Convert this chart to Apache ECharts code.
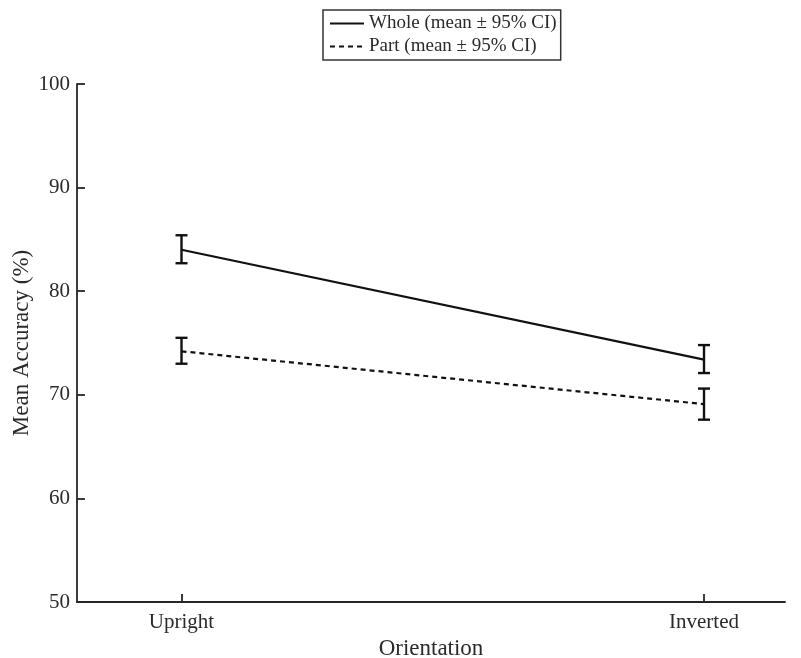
<!DOCTYPE html>
<html>
<head>
<meta charset="utf-8">
<script src="https://cdn.jsdelivr.net/npm/echarts@6/dist/echarts.min.js"></script>
<style>html,body{margin:0;padding:0;background:#fff}#c{width:801px;height:658px}</style>
</head>
<body>
<div id="c"></div>
<script>
var categories = ['Upright', 'Inverted'];
var wholeMean = [84.0, 73.4];
var wholeLow = [82.7, 72.1];
var wholeHigh = [85.4, 74.8];
var partMean = [74.2, 69.1];
var partLow = [73.0, 67.6];
var partHigh = [75.5, 70.6];
var yTicks = [50, 60, 70, 80, 90, 100];

var FONT = '"Liberation Serif", "Times New Roman", serif';
var TXT = '#2a2a2a';

function pts(arr) { return arr.map(function (v, i) { return [i + 1, v]; }); }
function errData(lo, hi) { return lo.map(function (v, i) { return [i + 1, v, hi[i]]; }); }

function errRender(params, api) {
  var x = api.value(0);
  var lo = api.coord([x, api.value(1)]);
  var hi = api.coord([x, api.value(2)]);
  var cap = 6;
  var st = { stroke: '#111', lineWidth: 2.4 };
  return {
    type: 'group',
    children: [
      { type: 'line', shape: { x1: lo[0], y1: lo[1], x2: hi[0], y2: hi[1] }, style: st },
      { type: 'line', shape: { x1: lo[0] - cap, y1: lo[1], x2: lo[0] + cap, y2: lo[1] }, style: st },
      { type: 'line', shape: { x1: hi[0] - cap, y1: hi[1], x2: hi[0] + cap, y2: hi[1] }, style: st }
    ]
  };
}

var chart = echarts.init(document.getElementById('c'));
chart.setOption({
  animation: false,
  backgroundColor: '#fff',
  textStyle: { fontFamily: FONT, color: TXT },
  grid: { left: 77, right: 16, top: 84, bottom: 56, containLabel: false, outerBoundsMode: 'none' },
  legend: {
    orient: 'vertical',
    left: 323, top: 10,
    itemWidth: 34, itemHeight: 10, itemGap: 4,
    padding: [4, 4, 4, 6],
    borderColor: '#333', borderWidth: 1.5,
    itemStyle: { opacity: 0 },
    textStyle: { fontFamily: FONT, fontSize: 19, color: TXT },
    data: ['Whole (mean \u00b1 95% CI)', 'Part (mean \u00b1 95% CI)']
  },
  xAxis: {
    type: 'value', min: 0.8, max: 2.155,
    name: 'Orientation', nameLocation: 'middle', nameGap: 34,
    nameTextStyle: { fontFamily: FONT, fontSize: 23, color: TXT },
    splitLine: { show: false },
    axisLine: { lineStyle: { color: '#262626', width: 1.8 } },
    axisTick: { inside: true, length: 8, customValues: [1, 2], lineStyle: { color: '#262626', width: 1.8 } },
    axisLabel: {
      customValues: [1, 2], margin: 10, fontFamily: FONT, fontSize: 21, color: TXT,
      formatter: function (v) { return categories[Math.round(v) - 1] || ''; }
    }
  },
  yAxis: {
    type: 'value', min: 50, max: 100, interval: 10,
    name: 'Mean Accuracy (%)', nameLocation: 'middle', nameGap: 44, nameMoveOverlap: false,
    nameTextStyle: { fontFamily: FONT, fontSize: 23, color: TXT },
    splitLine: { show: false },
    axisLine: { show: true, lineStyle: { color: '#262626', width: 1.8 } },
    axisTick: { show: true, inside: true, length: 8, lineStyle: { color: '#262626', width: 1.8 } },
    axisLabel: { margin: 7, fontFamily: FONT, fontSize: 21, color: TXT,
      formatter: function (v) { return yTicks.indexOf(v) >= 0 ? String(v) : ''; } }
  },
  series: [
    {
      name: 'Whole (mean \u00b1 95% CI)', type: 'line', data: pts(wholeMean),
      symbol: 'none', lineStyle: { color: '#111', width: 2.2, type: 'solid' },
      itemStyle: { color: '#111' }, z: 3
    },
    {
      name: 'Part (mean \u00b1 95% CI)', type: 'line', data: pts(partMean),
      symbol: 'none', lineStyle: { color: '#111', width: 2.2, type: [5, 4] },
      itemStyle: { color: '#111' }, z: 3
    },
    { type: 'custom', renderItem: errRender, data: errData(wholeLow, wholeHigh), encode: { x: 0, y: [1, 2] }, z: 4 },
    { type: 'custom', renderItem: errRender, data: errData(partLow, partHigh), encode: { x: 0, y: [1, 2] }, z: 4 }
  ]
});
</script>
</body>
</html>
